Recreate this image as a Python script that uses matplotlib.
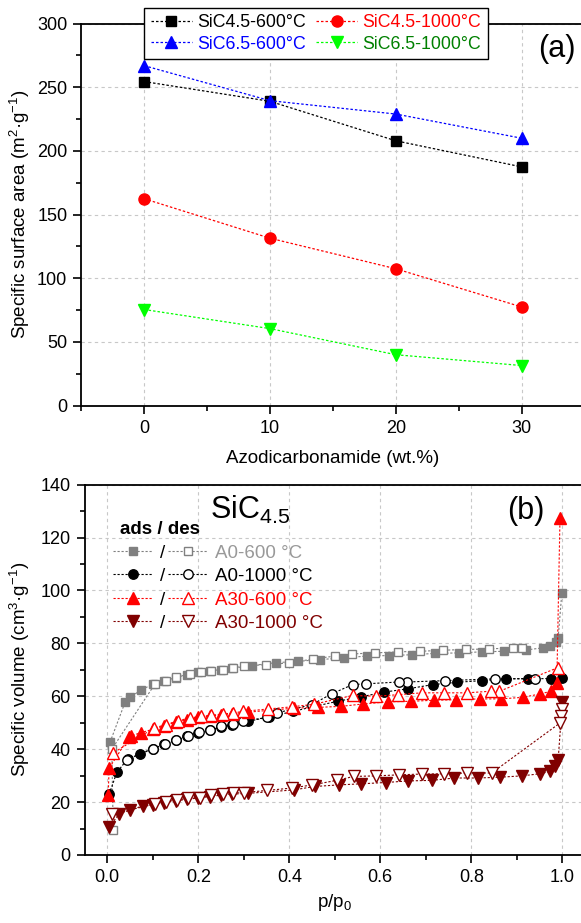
import numpy as np
import matplotlib
matplotlib.use('Agg')
import matplotlib.pyplot as plt
from matplotlib.ticker import MultipleLocator

plt.rcParams['font.family'] = ['Liberation Sans', 'DejaVu Sans']
plt.rcParams['mathtext.fontset'] = 'custom'
plt.rcParams['mathtext.rm'] = 'Liberation Sans'
plt.rcParams['mathtext.it'] = 'Liberation Sans:italic'
plt.rcParams['mathtext.bf'] = 'Liberation Sans:bold'
plt.rcParams['mathtext.default'] = 'regular'

# ---- (a) specific surface area vs azodicarbonamide content ----
azo_wt = [0, 10, 20, 30]
ssa_sic45_600 = [254.5, 239, 208, 187.5]
ssa_sic65_600 = [267, 239.5, 229, 210]
ssa_sic45_1000 = [162.5, 131.5, 107.5, 77.5]
ssa_sic65_1000 = [75.5, 60.5, 40, 31.5]

# ---- (b) N2 isotherms of SiC4.5 ----
a0_600_ads_x = [0.006, 0.039, 0.05, 0.075, 0.1, 0.125, 0.15, 0.175, 0.2, 0.225, 0.25, 0.275, 0.317,
                0.37, 0.42, 0.468, 0.52, 0.57, 0.619, 0.67, 0.72, 0.774, 0.823, 0.872, 0.92, 0.957,
                0.973, 0.986, 0.991, 0.999]
a0_600_ads_y = [42.6, 57.7, 59.6, 62.5, 64.5, 65.8, 67.0, 68.2, 69.0, 69.6, 70.1, 70.6, 71.6,
                72.7, 73.2, 73.9, 74.5, 75.2, 75.4, 75.7, 76.2, 76.4, 76.8, 77.0, 77.5, 78.3,
                78.9, 80.6, 82.1, 98.9]
a0_600_des_x = [0.912, 0.892, 0.839, 0.788, 0.737, 0.688, 0.64, 0.588, 0.538, 0.501, 0.452, 0.40,
                0.349, 0.30, 0.277, 0.254, 0.229, 0.205, 0.182, 0.152, 0.129, 0.105, 0.01, 0.013]
a0_600_des_y = [78.1, 78.3, 77.9, 77.7, 77.4, 77.0, 76.8, 76.4, 76.0, 75.2, 74.1, 72.6,
                72.0, 71.4, 70.7, 70.1, 69.7, 69.1, 68.5, 67.2, 65.9, 64.7, 40.0, 9.5]

a0_1000_ads_x = [0.004, 0.021, 0.045, 0.072, 0.1, 0.125, 0.15, 0.175, 0.2, 0.225, 0.25, 0.275, 0.31,
                 0.355, 0.409, 0.456, 0.506, 0.558, 0.609, 0.66, 0.715, 0.769, 0.823, 0.876, 0.924,
                 0.975, 1.0]
a0_1000_ads_y = [23.0, 31.2, 36.4, 38.3, 40.2, 41.8, 43.3, 44.8, 46.2, 47.2, 48.3, 49.3, 50.5,
                 52.2, 54.3, 56.2, 58.1, 59.8, 61.6, 62.8, 64.4, 65.3, 65.9, 66.6, 66.6,
                 66.7, 67.0]
a0_1000_des_x = [0.941, 0.852, 0.742, 0.658, 0.641, 0.568, 0.539, 0.493, 0.449, 0.372, 0.35, 0.299,
                 0.276, 0.251, 0.226, 0.202, 0.178, 0.152, 0.127, 0.101, 0.043]
a0_1000_des_y = [66.7, 66.6, 65.9, 65.4, 65.4, 64.7, 64.4, 60.9, 56.8, 53.7, 52.0, 50.5,
                 49.6, 48.6, 47.4, 46.5, 45.1, 43.6, 42.0, 40.2, 36.0]

a30_600_ads_x = [0.002, 0.004, 0.048, 0.052, 0.075, 0.1, 0.125, 0.15, 0.175, 0.2, 0.225, 0.25, 0.275,
                 0.31, 0.41, 0.464, 0.514, 0.563, 0.616, 0.667, 0.719, 0.766, 0.819, 0.865, 0.913,
                 0.952, 0.975, 0.988, 0.995]
a30_600_ads_y = [22.5, 32.8, 44.6, 45.0, 46.3, 47.5, 48.8, 50.2, 51.2, 52.0, 52.5, 53.0, 53.4,
                 54.0, 55.5, 55.8, 56.2, 57.1, 57.9, 58.1, 58.5, 58.7, 59.0, 59.0, 59.6,
                 60.9, 61.9, 65.0, 127.5]
a30_600_des_x = [0.99, 0.862, 0.843, 0.79, 0.74, 0.691, 0.64, 0.59, 0.539, 0.455, 0.405, 0.354, 0.299,
                 0.277, 0.254, 0.229, 0.205, 0.182, 0.156, 0.129, 0.103, 0.012]
a30_600_des_y = [70.8, 61.9, 61.9, 61.3, 61.3, 61.3, 60.6, 60.0, 60.3, 57.0, 56.0, 55.2, 54.3,
                 53.7, 53.3, 52.8, 52.4, 51.8, 50.8, 49.3, 48.0, 38.5]

a30_1000_ads_x = [0.004, 0.026, 0.05, 0.079, 0.1, 0.125, 0.15, 0.175, 0.2, 0.225, 0.25, 0.275, 0.31,
                  0.41, 0.456, 0.51, 0.558, 0.612, 0.662, 0.713, 0.763, 0.814, 0.863, 0.911, 0.951,
                  0.973, 0.984, 0.991, 1.0]
a30_1000_ads_y = [10.5, 15.5, 17.0, 18.6, 19.0, 19.8, 20.4, 21.1, 21.5, 22.1, 22.6, 23.0, 23.3,
                  24.6, 25.9, 26.5, 26.9, 27.4, 28.0, 28.2, 29.1, 29.1, 29.4, 29.9, 30.7,
                  31.6, 33.7, 36.0, 57.7]
a30_1000_des_x = [0.999, 0.997, 0.995, 0.845, 0.79, 0.74, 0.691, 0.642, 0.59, 0.542, 0.504, 0.451,
                  0.405, 0.352, 0.301, 0.277, 0.254, 0.228, 0.204, 0.178, 0.153, 0.129, 0.105, 0.01]
a30_1000_des_y = [55.0, 52.7, 49.9, 31.0, 31.0, 30.7, 30.6, 30.3, 29.9, 29.7, 28.2, 26.5,
                  25.3, 24.4, 23.6, 23.4, 23.0, 22.5, 21.7, 21.5, 20.8, 20.2, 19.3, 15.4]

iso_labels = ['A0-600 °C', 'A0-1000 °C', 'A30-600 °C', 'A30-1000 °C']

DOT = (0, (2, 1.6))
GRID = dict(color='#c8c8c8', ls=(0, (3, 3)), lw=0.8)


def style_axes(ax):
    ax.grid(True, **GRID)
    ax.set_axisbelow(True)
    for sp in ax.spines.values():
        sp.set_linewidth(1.3)
    ax.tick_params(which='major', direction='out', length=6, width=1.2, labelsize=13, pad=4)
    ax.tick_params(which='minor', direction='out', length=3.5, width=1.2)


fig = plt.figure(figsize=(5.81, 9.23), dpi=100)
ax1 = fig.add_axes([0.1398, 0.5605, 0.8664, 0.4139])
ax2 = fig.add_axes([0.1455, 0.0737, 0.8614, 0.4012])

# panel (a)
series_a = [
    (ssa_sic45_600, 'black', 's', 7.5, 'SiC4.5-600°C', 'black'),
    (ssa_sic65_600, 'blue', '^', 9, 'SiC6.5-600°C', 'blue'),
    (ssa_sic45_1000, 'red', 'o', 8, 'SiC4.5-1000°C', 'red'),
    (ssa_sic65_1000, '#00ff00', 'v', 9, 'SiC6.5-1000°C', '#008000'),
]
for vals, c, m, ms, lab, tc in series_a:
    ax1.plot(azo_wt, vals, ls=DOT, lw=0.9, color=c, marker=m, ms=ms, mfc=c, mec=c, label=lab)

style_axes(ax1)
ax1.set_xlim(-5, 35)
ax1.set_ylim(0, 300)
ax1.xaxis.set_major_locator(MultipleLocator(10))
ax1.xaxis.set_minor_locator(MultipleLocator(5))
ax1.yaxis.set_major_locator(MultipleLocator(50))
ax1.yaxis.set_minor_locator(MultipleLocator(25))
ax1.set_xlabel('Azodicarbonamide (wt.%)', fontsize=13.5, va='center')
ax1.set_ylabel('Specific surface area (m$^{2}$·g$^{-1}$)', fontsize=13.5, va='center')
ax1.xaxis.set_label_coords(0.5, -0.1395)
ax1.yaxis.set_label_coords(-0.1216, 0.5)

h, l = ax1.get_legend_handles_labels()
leg1 = ax1.legend(h, l, ncol=2, loc='center',
                  bbox_to_anchor=(0.4664, 0.9745), fontsize=12.8, frameon=True, fancybox=False,
                  edgecolor='black', framealpha=1, borderpad=0.35, handlelength=2.3,
                  handletextpad=0.3, columnspacing=0.6, labelspacing=0.25, borderaxespad=0)
leg1.get_frame().set_linewidth(1.0)
leg1.set_zorder(10)
for txt, s in zip(leg1.get_texts(), series_a):
    txt.set_color(s[5])
ax1.text(0.9446, 0.9338, '(a)', transform=ax1.transAxes, fontsize=22, ha='center', va='center')

# panel (b)
series_b = [
    (a0_600_ads_x, a0_600_ads_y, a0_600_des_x, a0_600_des_y, '#808080', 's', 6.2, '#999999'),
    (a0_1000_ads_x, a0_1000_ads_y, a0_1000_des_x, a0_1000_des_y, 'black', 'o', 6.8, 'black'),
    (a30_600_ads_x, a30_600_ads_y, a30_600_des_x, a30_600_des_y, 'red', '^', 8, 'red'),
    (a30_1000_ads_x, a30_1000_ads_y, a30_1000_des_x, a30_1000_des_y, '#800000', 'v', 8, '#800000'),
]
ads_handles = []
des_handles = []
for xa, ya, xd, yd, c, m, ms, tc in series_b:
    ha, = ax2.plot(xa, ya, ls=DOT, lw=0.8, color=c, marker=m, ms=ms, mfc=c, mec=c)
    hd, = ax2.plot(xd, yd, ls=DOT, lw=0.8, color=c, marker=m, ms=ms, mfc='white', mec=c, mew=1.0)
    ads_handles.append(ha)
    des_handles.append(hd)

style_axes(ax2)
ax2.set_xlim(-0.05, 1.05)
ax2.set_ylim(0, 140)
ax2.xaxis.set_major_locator(MultipleLocator(0.2))
ax2.xaxis.set_minor_locator(MultipleLocator(0.1))
ax2.yaxis.set_major_locator(MultipleLocator(20))
ax2.yaxis.set_minor_locator(MultipleLocator(10))
ax2.set_xlabel('p/p$_{0}$', fontsize=13.5, va='center')
ax2.set_ylabel('Specific volume (cm$^{3}$·g$^{-1}$)', fontsize=13.5, va='center')
ax2.xaxis.set_label_coords(0.5, -0.1296)
ax2.yaxis.set_label_coords(-0.129, 0.5)

leg2 = ax2.legend(ads_handles + des_handles, ['/'] * 4 + iso_labels, ncol=2, loc='center left',
                  bbox_to_anchor=(0.0574, 0.7204), fontsize=13.5, frameon=False, borderpad=0,
                  borderaxespad=0, handlelength=2.1, handletextpad=0.4, columnspacing=0.15,
                  labelspacing=0.34)
for txt, s in zip(leg2.get_texts()[4:], series_b):
    txt.set_color(s[7])

ax2.text(0.0708, 0.8796, 'ads / des', transform=ax2.transAxes, fontsize=13.5, fontweight='bold',
         ha='left', va='center')
ax2.text(0.2506, 0.9066, 'SiC$_{4.5}$', transform=ax2.transAxes, fontsize=22,
         ha='left', va='baseline')
ax2.text(0.882, 0.929, '(b)', transform=ax2.transAxes, fontsize=22, ha='center', va='center')

fig.savefig('out.png', dpi=100)
